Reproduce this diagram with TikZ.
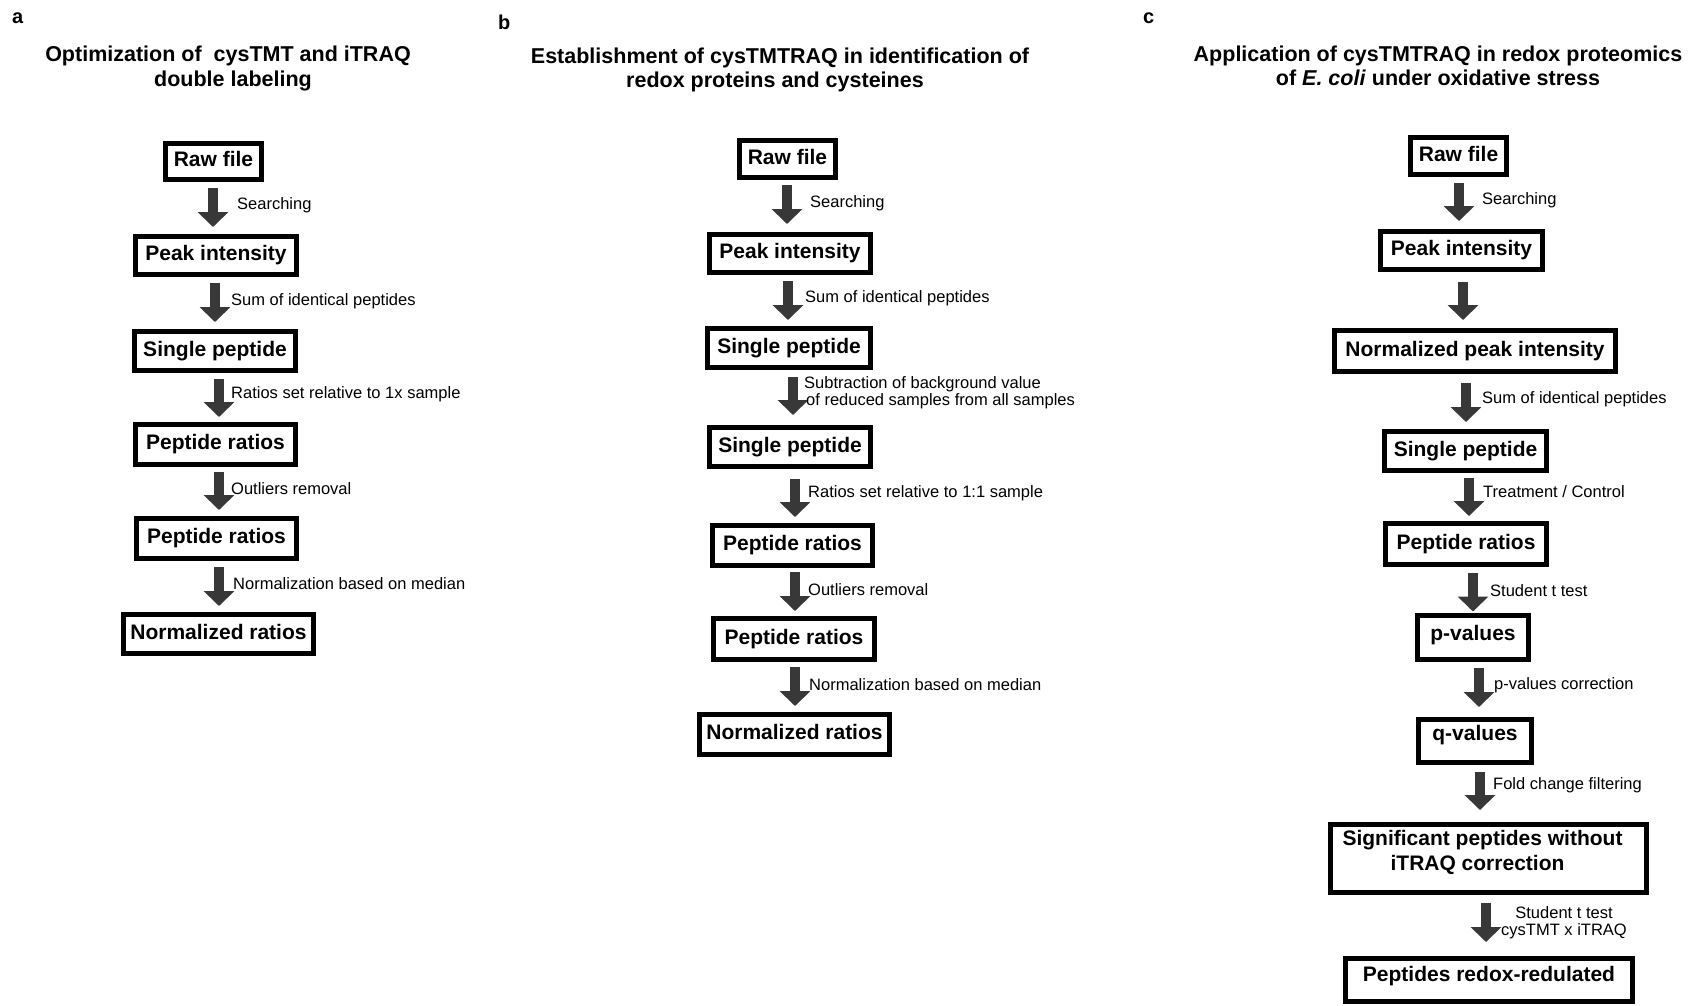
\documentclass[tikz,border=0pt]{standalone}
\usepackage{fontspec}
\setmainfont{Liberation Sans}
\usetikzlibrary{arrows.meta}
\definecolor{arrgray}{HTML}{383838}
\newcommand\boxfont{\fontsize{21}{25}\selectfont\bfseries}
\newcommand\lblfont{\fontsize{16.5}{17}\selectfont}
\newcommand\ttlfont{\fontsize{21.5}{24.5}\selectfont\bfseries}
\newcommand\letfont{\fontsize{20}{24}\selectfont\bfseries}
\newcommand\ctab[1]{\begin{tabular}[t]{@{}c@{}}#1\end{tabular}}
\newcommand\ltab[1]{\begin{tabular}[t]{@{}l@{}}#1\end{tabular}}
\tikzset{
  box/.style={draw, line width=5pt, inner sep=0pt, font=\boxfont, text height=15pt, text depth=5pt, align=center},
  sz/.style 2 args={minimum width={(#1-5)*1pt}, minimum height={(#2-5)*1pt}},
  lbl/.style={anchor=base west, inner sep=0pt, font=\lblfont},
  ttl/.style={anchor=base, inner sep=0pt, font=\ttlfont},
  letter/.style={anchor=base west, inner sep=0pt, font=\letfont},
  bigarrow/.style 2 args={draw=arrgray, line width=9.5pt, -{Triangle[length=15pt,width=30pt]}, shorten <=#1pt, shorten >=#2pt}
}
\begin{document}
\begin{tikzpicture}[x=1pt,y=-1pt]
\fill[white] (0,0) rectangle (1703,1005);
\useasboundingbox (0,0) rectangle (1703,1005);

% panel letters
\node[letter] (pa) at (12,23) {a};
\node[letter] (pb) at (498,29) {b};
\node[letter] (pc) at (1143,23) {c};

% titles
\node[ttl] (ta) at (228,61.5) {\ctab{Optimization of~ cysTMT and iTRAQ\\\hspace*{10pt}double labeling}};
\node[ttl] (tb) at (780,63) {\ctab{Establishment of cysTMTRAQ in identification of\\redox proteins and cysteines\hspace*{10pt}}};
\node[ttl] (tc) at (1438,61) {\ctab{Application of cysTMTRAQ in redox proteomics\\of \textit{E. coli} under oxidative stress}};

% ---------- panel a ----------
\node[box,sz={101}{41}] (a1) at (213.5,161.5) {Raw file};
\node[box,sz={166}{43}] (a2) at (216,255.5) {Peak intensity};
\node[box,sz={166}{44}] (a3) at (215,351) {Single peptide};
\node[box,sz={165}{45}] (a4) at (215.5,444.5) {Peptide ratios};
\node[box,sz={165}{45}] (a5) at (216.5,538.5) {Peptide ratios};
\node[box,sz={195}{44}] (a6) at (218.5,634) {Normalized ratios};

\draw[bigarrow={6}{7}] (a1.south -| 213,0) -- (a2.north -| 213,0);
\draw[bigarrow={6}{7}] (a2.south -| 215,0) -- (a3.north -| 215,0);
\draw[bigarrow={6}{5}] (a3.south -| 219,0) -- (a4.north -| 219,0);
\draw[bigarrow={5}{6}] (a4.south -| 219,0) -- (a5.north -| 219,0);
\draw[bigarrow={6}{6}] (a5.south -| 219,0) -- (a6.north -| 219,0);

\node[lbl] (la1) at (237,209) {Searching};
\node[lbl] (la2) at (231,305) {Sum of identical peptides};
\node[lbl] (la3) at (231,398) {Ratios set relative to 1x sample};
\node[lbl] (la4) at (231,494) {Outliers removal};
\node[lbl] (la5) at (233,589) {Normalization based on median};

% ---------- panel b ----------
\node[box,sz={101}{42}] (b1) at (787.5,159) {Raw file};
\node[box,sz={166}{43}] (b2) at (790,253.5) {Peak intensity};
\node[box,sz={168}{44}] (b3) at (789,348) {Single peptide};
\node[box,sz={166}{44}] (b4) at (790,447) {Single peptide};
\node[box,sz={165}{45}] (b5) at (792.5,545.5) {Peptide ratios};
\node[box,sz={166}{46}] (b6) at (794,639) {Peptide ratios};
\node[box,sz={195}{45}] (b7) at (794.5,734.5) {Normalized ratios};

\draw[bigarrow={5}{8}] (b1.south -| 787,0) -- (b2.north -| 787,0);
\draw[bigarrow={6}{6}] (b2.south -| 788,0) -- (b3.north -| 788,0);
\draw[bigarrow={7}{10}] (b3.south -| 793,0) -- (b4.north -| 793,0);
\draw[bigarrow={10}{6}] (b4.south -| 795,0) -- (b5.north -| 795,0);
\draw[bigarrow={4}{5}] (b5.south -| 795,0) -- (b6.north -| 795,0);
\draw[bigarrow={5}{6}] (b6.south -| 795,0) -- (b7.north -| 795,0);

\node[lbl] (lb1) at (810,207) {Searching};
\node[lbl] (lb2) at (805,302) {Sum of identical peptides};
\node[lbl] (lb3) at (804,388) {\ltab{Subtraction of background value\\\hspace*{2pt}of reduced samples from all samples}};
\node[lbl] (lb4) at (808,497) {Ratios set relative to 1:1 sample};
\node[lbl] (lb5) at (808,595) {Outliers removal};
\node[lbl] (lb6) at (809,690) {Normalization based on median};

% ---------- panel c ----------
\node[box,sz={101}{42}] (c1) at (1458.5,156) {Raw file};
\node[box,sz={167}{43}] (c2) at (1461.5,250.5) {Peak intensity};
\node[box,sz={286}{46}] (c3) at (1475,351) {Normalized peak intensity};
\node[box,sz={167}{44}] (c4) at (1465.5,451) {Single peptide};
\node[box,sz={166}{46}] (c5) at (1466,544) {Peptide ratios};
\node[box,sz={116}{49},text depth=10pt] (c6) at (1473,637.5) {p-values};
\node[box,sz={118}{48},text depth=17pt] (c7) at (1475,741) {q-values};
\node[box,sz={321}{73},text depth=41pt] (c8) at (1488.5,858.5) {\ctab{Significant peptides without\hspace*{12pt}\\iTRAQ correction\hspace*{22pt}}};
\node[box,sz={292}{48},text depth=11.6pt] (c9) at (1489,980) {Peptides redox-redulated};

\draw[bigarrow={6}{8}] (c1.south -| 1459,0) -- (c2.north -| 1459,0);
\draw[bigarrow={10}{8}] (c2.south -| 1463,0) -- (c3.north -| 1463,0);
\draw[bigarrow={9}{7}] (c3.south -| 1466,0) -- (c4.north -| 1466,0);
\draw[bigarrow={5}{5}] (c4.south -| 1469,0) -- (c5.north -| 1469,0);
\draw[bigarrow={6}{1.5}] (c5.south -| 1473,0) -- (c6.north -| 1473,0);
\draw[bigarrow={6}{10}] (c6.south -| 1479,0) -- (c7.north -| 1479,0);
\draw[bigarrow={7}{12}] (c7.south -| 1480,0) -- (c8.north -| 1480,0);
\draw[bigarrow={8}{14}] (c8.south -| 1486,0) -- (c9.north -| 1486,0);

\node[lbl] (lc1) at (1482,204) {Searching};
\node[lbl] (lc2) at (1482,403) {Sum of identical peptides};
\node[lbl] (lc3) at (1483,497) {Treatment / Control};
\node[lbl] (lc4) at (1490,596) {Student t test};
\node[lbl] (lc5) at (1494,689) {p-values correction};
\node[lbl] (lc6) at (1493,789) {Fold change filtering};
\node[lbl,anchor=base] (lc7) at (1564,918) {\ctab{Student t test\\cysTMT x iTRAQ}};
\end{tikzpicture}
\end{document}
